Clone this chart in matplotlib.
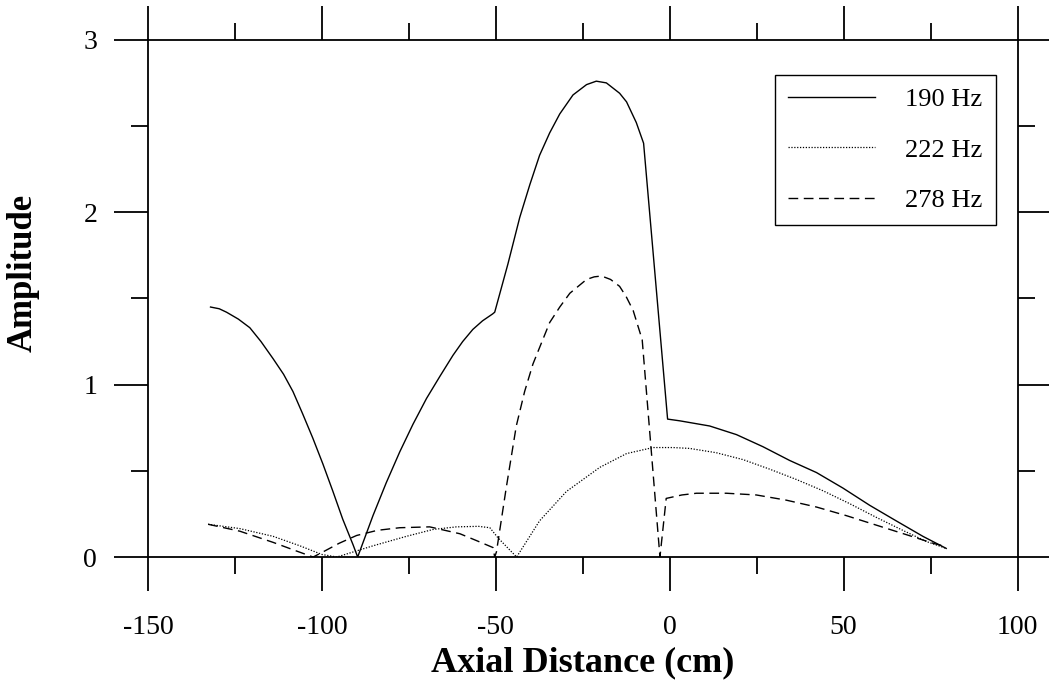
import matplotlib
matplotlib.use("Agg")
import matplotlib.pyplot as plt
from matplotlib.ticker import MultipleLocator

plt.rcParams['font.family'] = ['Liberation Serif', 'DejaVu Serif']
plt.rcParams['axes.unicode_minus'] = False

# 190 Hz (solid)
x190 = [-132, -129.5, -127.4, -124, -120.7, -117.5, -114, -111, -108.3,
        -105.5, -102.6, -99.7, -96.8, -94, -91, -89.7,
        -85.3, -81.5, -77.6, -73.8, -69.9, -66, -62.3, -59.5, -56.6,
        -53.8, -50.9, -50.3,
        -46.5, -43.1, -40.2, -37.4, -34.5, -31.6, -27.8, -23.9, -21.1,
        -18.2, -14.4, -12.4, -9.6, -7.5,
        -0.6, 2.9, 11.5, 19.2, 26.8, 34.5, 42.2, 49.8, 57.5, 65.1, 72.8, 79.5]
y190 = [1.45, 1.44, 1.42, 1.38, 1.33, 1.25, 1.15, 1.06, 0.96,
        0.83, 0.69, 0.54, 0.38, 0.22, 0.07, 0.0,
        0.24, 0.43, 0.61, 0.77, 0.92, 1.05, 1.17, 1.25, 1.32,
        1.37, 1.41, 1.42,
        1.70, 1.97, 2.16, 2.33, 2.46, 2.57, 2.68, 2.74, 2.76,
        2.75, 2.69, 2.64, 2.52, 2.40,
        0.80, 0.79, 0.76, 0.71, 0.64, 0.56, 0.49, 0.40, 0.30, 0.21, 0.12, 0.05]

# 222 Hz (dotted)
x222 = [-132.7, -123.6, -114, -106.3, -100, -95.7,
        -85.3, -75.7, -68, -61.3, -55, -51.7, -49.3, -44,
        -37.4, -29.7, -20.1, -12.4, -4.8, 1, 5.7, 13.4, 21.1, 28.7,
        36.4, 44, 51.7, 59.4, 67, 73.8, 79.5]
y222 = [0.19, 0.165, 0.12, 0.065, 0.015, 0.0,
        0.065, 0.12, 0.16, 0.175, 0.178, 0.17, 0.11, 0.0,
        0.21, 0.38, 0.52, 0.60, 0.635, 0.635, 0.63, 0.605, 0.565, 0.51,
        0.45, 0.385, 0.31, 0.23, 0.155, 0.09, 0.05]

# 278 Hz (dashed)
x278 = [-132.7, -123.6, -114, -107.3, -102.5, -100.1, -95, -90, -84, -77.6,
        -69, -60.3, -55.5, -50.8, -50.3, -49.8, -47, -44.1, -41.7, -39.3,
        -36.9, -34.5, -31.6, -28.7, -26.3, -23.9, -21.7, -19.6, -17, -14.4,
        -12.5, -10.5, -7.9, -2.8, -1.0, 3.5, 7.7, 16.3, 24.9, 33.5,
        42.2, 50.8, 59.4, 68, 75.7, 79.5]
y278 = [0.19, 0.15, 0.085, 0.035, 0.0, 0.025, 0.08, 0.125, 0.155, 0.17,
        0.175, 0.135, 0.095, 0.055, 0.0, 0.03, 0.40, 0.76, 0.96, 1.12,
        1.24, 1.36, 1.45, 1.53, 1.57, 1.61, 1.625, 1.63, 1.61, 1.57,
        1.51, 1.43, 1.26, 0.0, 0.34, 0.36, 0.37, 0.37, 0.36, 0.33,
        0.29, 0.24, 0.185, 0.13, 0.08, 0.06]

fig = plt.figure(figsize=(10.49, 6.86), dpi=100)
ax = fig.add_axes([0.141, 0.188, 0.829, 0.754])

ax.plot(x190, y190, color='black', lw=1.0, ls='-', label='190 Hz')
ax.plot(x222, y222, color='black', lw=0.9, ls=(0, (1, 1.3)), label='222 Hz')
ax.plot(x278, y278, color='black', lw=1.0, ls=(0, (7, 4)), label='278 Hz')

ax.set_xlim(-150, 100)
ax.set_ylim(0, 3)
ax.xaxis.set_major_locator(MultipleLocator(50))
ax.xaxis.set_minor_locator(MultipleLocator(25))
ax.yaxis.set_major_locator(MultipleLocator(1))
ax.yaxis.set_minor_locator(MultipleLocator(0.5))

for s in ax.spines.values():
    s.set_linewidth(1.3)
ax.tick_params(which='both', direction='out', top=True, right=True, width=1.3)
ax.tick_params(which='major', length=24.5, labelsize=20)
ax.tick_params(which='minor', length=12)
ax.tick_params(axis='x', which='major', pad=17)
ax.tick_params(axis='y', which='major', pad=12)

ax.set_xlabel('Axial Distance (cm)', fontsize=26, fontweight='bold', va='top')
ax.set_ylabel('Amplitude', fontsize=25, fontweight='bold', va='center')
ax.xaxis.set_label_coords(0.5, -0.172)
ax.yaxis.set_label_coords(-0.143, 0.55)

leg = ax.legend(loc='upper right', bbox_to_anchor=(0.9747, 0.9323),
                borderaxespad=0, fontsize=19, handlelength=3.3,
                handletextpad=1.15, labelspacing=1.03, borderpad=0.48,
                fancybox=False, framealpha=1)
leg.get_frame().set_edgecolor('black')
leg.get_frame().set_linewidth(1.0)

fig.savefig('out.png', dpi=100)
